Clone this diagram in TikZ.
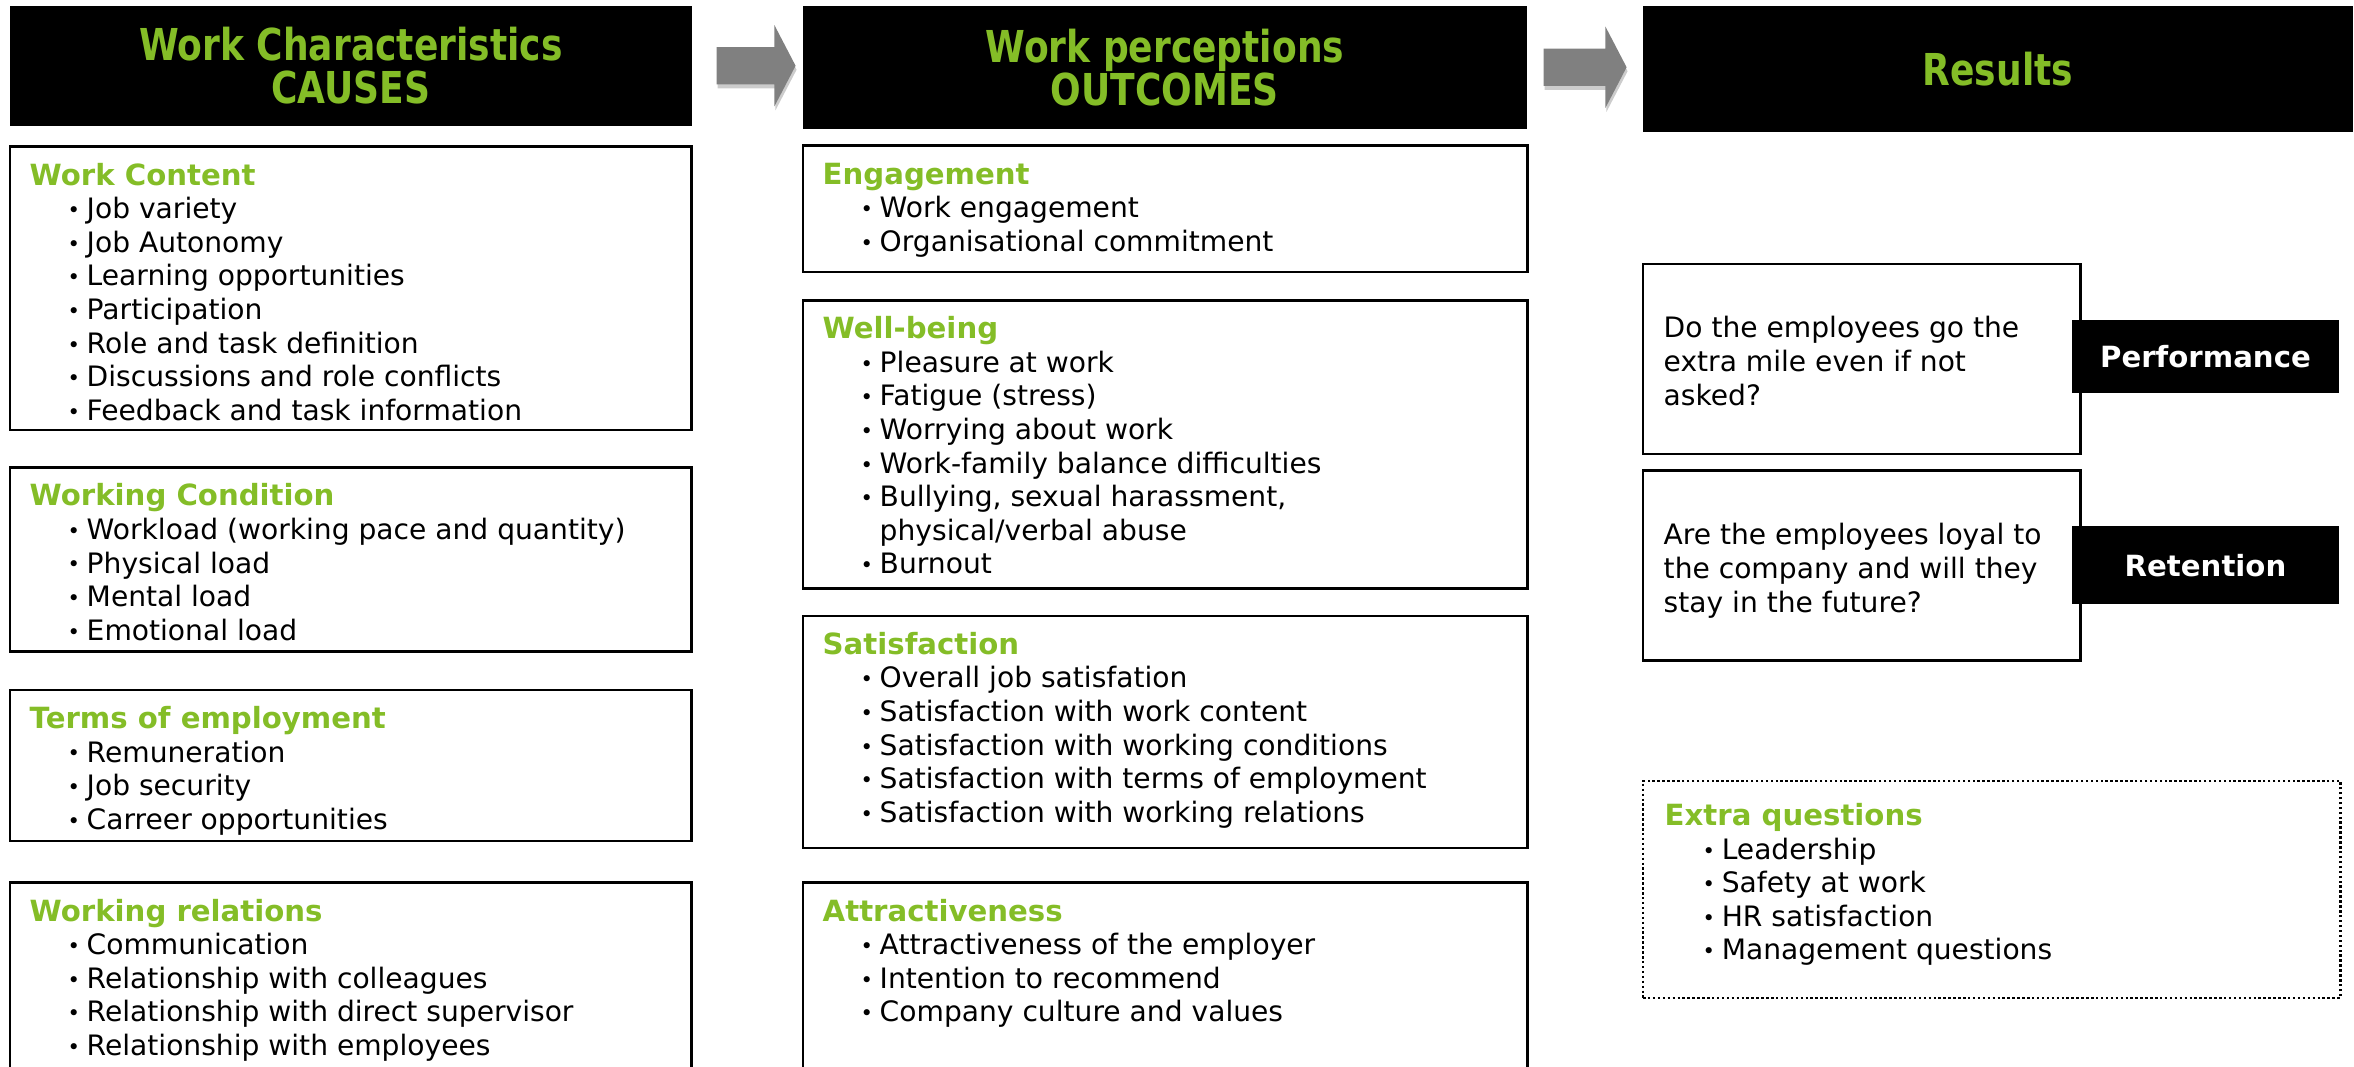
\documentclass[tikz,border=0pt]{standalone}
\usepackage{fontspec}
\setmainfont{DejaVu Sans}
\newfontfamily\headfont{DejaVu Sans}[FakeStretch=0.82]
\usepackage{xcolor}
\usetikzlibrary{positioning, shapes.arrows, shadows}
\definecolor{kpigreen}{RGB}{132,189,39}
\definecolor{arrowgray}{RGB}{128,128,128}

\newcommand{\cat}[1]{\strut{\fontsize{8.3}{9.55}\selectfont\bfseries\color{kpigreen}#1}}
\newcommand{\itm}[1]{\\\hspace*{0.38cm}\makebox[0.19cm][l]{\raisebox{0.3pt}{\fontsize{6}{6}\selectfont\textbullet}}#1}

\tikzset{
	head/.style={fill=black, text=kpigreen, font=\headfont\bfseries\fontsize{12.5}{12.2}\selectfont, align=center, anchor=north west, inner sep=0pt},
	flowarrow/.style={single arrow, fill=arrowgray, inner xsep=0pt, inner ysep=0.18cm, minimum height=0.79cm, minimum width=0.80cm, single arrow head extend=0.22cm, single arrow tip angle=125, drop shadow={shadow xshift=0.01cm, shadow yshift=-0.04cm, fill=black!20, opacity=1}},
	catbox/.style={draw, line width=0.7pt, inner sep=0pt},
	listtext/.style={anchor=north west, inner sep=0pt, align=left, font=\fontsize{8}{9.55}\selectfont},
	qtext/.style={anchor=north west, inner sep=0pt, align=left, font=\fontsize{8}{9.7}\selectfont},
	tagbox/.style={fill=black, text=white, font=\fontsize{8.3}{10}\selectfont\bfseries, minimum width=2.66cm, inner sep=0pt},
	extrabox/.style={draw, line width=0.6pt, dash pattern=on 0.7pt off 0.7pt, inner sep=0pt}
}

\begin{document}
\begin{tikzpicture}[x=0.01cm, y=-0.01cm]
	\clip (0,0) rectangle (2354,1066);
	\node[head, minimum width=6.82cm, minimum height=1.20cm] (causes) at (9,5) {Work Characteristics\\CAUSES};
	\node[head, minimum width=7.24cm, minimum height=1.23cm] (outcomes) at (802,5) {Work perceptions\\OUTCOMES};
	\node[head, minimum width=7.10cm, minimum height=1.26cm] (results) at (1642,5) {Results};
	
	\node[flowarrow, right=0.23cm of causes] (arr1) {};
	\node[flowarrow, right=0.15cm of outcomes, minimum height=0.83cm] (arr2) {};
	
	\node[catbox, minimum width=6.81cm, minimum height=2.83cm, below=0.19cm of causes.south west, anchor=north west] (content) {};
	\node[catbox, minimum width=6.81cm, minimum height=1.84cm, below=0.35cm of content.south west, anchor=north west] (condition) {};
	\node[catbox, minimum width=6.81cm, minimum height=1.51cm, below=0.36cm of condition.south west, anchor=north west] (terms) {};
	\node[catbox, minimum width=6.81cm, minimum height=2.20cm, below=0.39cm of terms.south west, anchor=north west] (relations) {};
	
	\node[catbox, minimum width=7.24cm, minimum height=1.26cm, below=0.15cm of outcomes.south west, anchor=north west] (engagement) {};
	\node[catbox, minimum width=7.24cm, minimum height=2.88cm, below=0.26cm of engagement.south west, anchor=north west] (wellbeing) {};
	\node[catbox, minimum width=7.24cm, minimum height=2.32cm, below=0.25cm of wellbeing.south west, anchor=north west] (satisfaction) {};
	\node[catbox, minimum width=7.24cm, minimum height=2.20cm, below=0.32cm of satisfaction.south west, anchor=north west] (attract) {};
	
	\node[catbox, minimum width=4.37cm, minimum height=1.90cm, below=1.30cm of results.south west, anchor=north west] (perfq) {};
	\node[catbox, minimum width=4.37cm, minimum height=1.90cm, below=0.14cm of perfq.south west, anchor=north west] (retq) {};
	\node[extrabox, minimum width=6.97cm, minimum height=2.17cm, below=1.18cm of retq.south west, anchor=north west] (extra) {};
	
	\node[tagbox, minimum height=0.73cm, right=-0.10cm of perfq, yshift=0.025cm] (perf) {Performance};
	\node[tagbox, minimum height=0.78cm, right=-0.10cm of retq] (ret) {Retention};
	
	\node[listtext] (contenttext) at ([shift={(20,15.5)}]content.north west) {\cat{Work Content}\itm{Job variety}\itm{Job Autonomy}\itm{Learning opportunities}\itm{Participation}\itm{Role and task definition}\itm{Discussions and role conflicts}\itm{Feedback and task information}};
	\node[listtext] (conditiontext) at ([shift={(20,15.5)}]condition.north west) {\cat{Working Condition}\itm{Workload (working pace and quantity)}\itm{Physical load}\itm{Mental load}\itm{Emotional load}};
	\node[listtext] (termstext) at ([shift={(20,15.5)}]terms.north west) {\cat{Terms of employment}\itm{Remuneration}\itm{Job security}\itm{Carreer opportunities}};
	\node[listtext] (relationstext) at ([shift={(20,15.5)}]relations.north west) {\cat{Working relations}\itm{Communication}\itm{Relationship with colleagues}\itm{Relationship with direct supervisor}\itm{Relationship with employees}};
	
	\node[listtext] (engagementtext) at ([shift={(20,15.5)}]engagement.north west) {\cat{Engagement}\itm{Work engagement}\itm{Organisational commitment}};
	\node[listtext] (wellbeingtext) at ([shift={(20,15.5)}]wellbeing.north west) {\cat{Well-being}\itm{Pleasure at work}\itm{Fatigue (stress)}\itm{Worrying about work}\itm{Work-family balance difficulties}\itm{Bullying, sexual harassment,}\\\hspace*{0.57cm}physical/verbal abuse\itm{Burnout}};
	\node[listtext] (satisfactiontext) at ([shift={(20,15.5)}]satisfaction.north west) {\cat{Satisfaction}\itm{Overall job satisfation}\itm{Satisfaction with work content}\itm{Satisfaction with working conditions}\itm{Satisfaction with terms of employment}\itm{Satisfaction with working relations}};
	\node[listtext] (attracttext) at ([shift={(20,15.5)}]attract.north west) {\cat{Attractiveness}\itm{Attractiveness of the employer}\itm{Intention to recommend}\itm{Company culture and values}};
	
	\node[qtext] (perfqtext) at ([shift={(21,50.5)}]perfq.north west) {\strut Do the employees go the\\extra mile even if not\\asked?};
	\node[qtext] (retqtext) at ([shift={(21,50.5)}]retq.north west) {\strut Are the employees loyal to\\the company and will they\\stay in the future?};
	\node[listtext] (extratext) at ([shift={(22,21.5)}]extra.north west) {\cat{Extra questions}\itm{Leadership}\itm{Safety at work}\itm{HR satisfaction}\itm{Management questions}};
\end{tikzpicture}
\end{document}
